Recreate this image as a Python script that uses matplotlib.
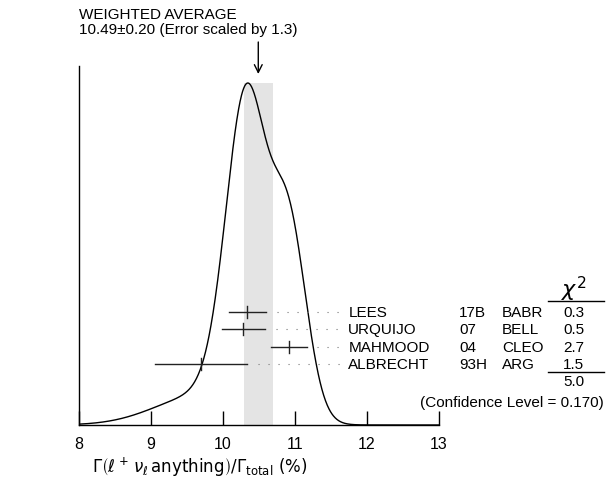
import numpy as np
import matplotlib
matplotlib.use('Agg')
import matplotlib.pyplot as plt

plt.rcParams['font.family'] = ['Liberation Sans', 'DejaVu Sans']
plt.rcParams['mathtext.fontset'] = 'dejavusans'

# measurements
names = ['LEES', 'URQUIJO', 'MAHMOOD', 'ALBRECHT']
years = ['17B', '07', '04', '93H']
exps = ['BABR', 'BELL', 'CLEO', 'ARG']
values = [10.34, 10.28, 10.91, 9.70]
errors = [0.26, 0.30, 0.25, 0.64]
chi2 = ['0.3', '0.5', '2.7', '1.5']
chi2_total = '5.0'
avg = 10.49
avg_err = 0.20
scale = 1.3
cl = '0.170'
ticks = [8, 9, 10, 11, 12, 13]

fs = 11
fig = plt.figure(figsize=(6.11, 4.89), dpi=100)
ax = fig.add_axes([79 / 611, 63 / 489, 360 / 611, 359 / 489])
ax.set_xlim(8, 13)
ax.set_ylim(0, 359)

# ideogram: gaussians with area ~ 1/sigma
x = np.linspace(8, 13, 1000)
curve = np.zeros_like(x)
for v, e in zip(values, errors):
    curve += np.exp(-0.5 * ((x - v) / e) ** 2) / e ** 2
curve = curve / curve.max() * 342
ax.plot(x, curve, color='black', lw=1.0)

# weighted average band
ax.axvspan(avg - avg_err, avg + avg_err, ymin=0, ymax=342 / 359, color='#e4e4e4', lw=0, zorder=0)

# measurements with error bars and dotted leaders
rows = [113.3, 96.0, 78.3, 61.0]
for v, e, y, n, yr, ex, c in zip(values, errors, rows, names, years, exps, chi2):
    ax.plot([v - e, v + e], [y, y], color='#222222', lw=1.0)
    ax.plot([v, v], [y - 6, y + 6], color='#222222', lw=1.0)
    ax.plot([v + e + 0.15, 11.7], [y, y], color='#777777', lw=0.8,
            ls=(0, (1, 8)), clip_on=False)
    ax.text(11.74, y, n, fontsize=fs, va='center', ha='left', clip_on=False)
    ax.text(13.28, y, yr, fontsize=fs, va='center', ha='left', clip_on=False)
    ax.text(13.875, y, ex, fontsize=fs, va='center', ha='left', clip_on=False)
    ax.text(14.87, y, c, fontsize=fs, va='center', ha='center', clip_on=False)

# chi2 column
ax.text(14.87, 137, r'$\chi^2$', fontsize=16, va='center', ha='center', clip_on=False)
ax.plot([14.51, 15.29], [124, 124], color='black', lw=1.0, clip_on=False)
ax.plot([14.51, 15.29], [53, 53], color='black', lw=1.0, clip_on=False)
ax.text(14.87, 44, chi2_total, fontsize=fs, va='center', ha='center', clip_on=False)
ax.text(15.29, 23, '(Confidence Level = %s)' % cl, fontsize=fs, va='center',
        ha='right', clip_on=False)

# title and arrow
ax.text(8, 411, 'WEIGHTED AVERAGE', fontsize=fs, va='center', ha='left', clip_on=False)
ax.text(8, 396, '%.2f\u00b1%.2f (Error scaled by %.1f)' % (avg, avg_err, scale),
        fontsize=fs, va='center', ha='left', clip_on=False)
ax.annotate('', xy=(avg, 351), xytext=(avg, 383),
            arrowprops=dict(arrowstyle='->', color='black', lw=1.0,
                            mutation_scale=14, shrinkA=0, shrinkB=0),
            annotation_clip=False)

# axes
for s in ['top', 'right']:
    ax.spines[s].set_visible(False)
ax.spines['left'].set_linewidth(1.0)
ax.spines['bottom'].set_linewidth(1.0)
ax.set_yticks([])
ax.set_xticks(ticks)
ax.set_xticklabels([str(t) for t in ticks], fontsize=11.5)
ax.tick_params(axis='x', direction='in', length=10, width=1.0, pad=8)

fig.text(92 / 611, 1 - 467 / 489,
         r'$\Gamma\left(\ell^+\,\nu_\ell\,\mathsf{anything}\right)/\Gamma_{\mathsf{total}}$ (%)',
         fontsize=12, va='center', ha='left', family='DejaVu Sans')

fig.savefig('out.png', dpi=100)
